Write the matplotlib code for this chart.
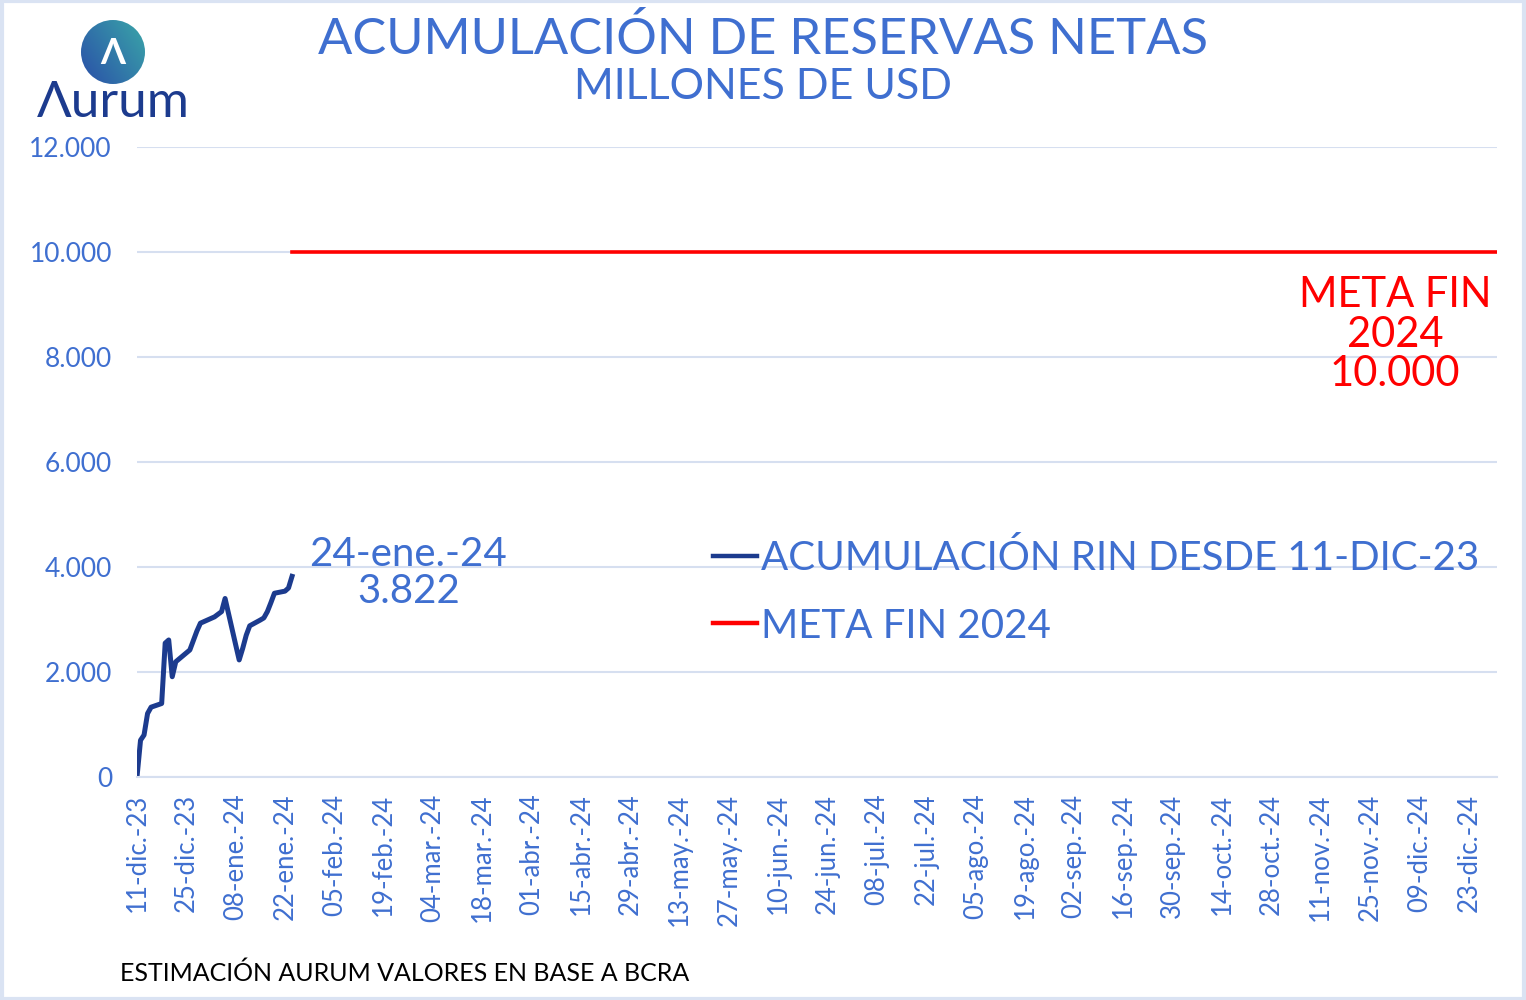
import numpy as np
import pandas as pd
import matplotlib
matplotlib.use('Agg')
import matplotlib.pyplot as plt
from matplotlib.patches import Circle, Rectangle

plt.rcParams['font.family'] = ['Lato', 'DejaVu Sans']

# datos: acumulacion de reservas netas (millones USD)
fechas = ['2023-12-11', '2023-12-12', '2023-12-13', '2023-12-14', '2023-12-15',
          '2023-12-18', '2023-12-19', '2023-12-20', '2023-12-21', '2023-12-22',
          '2023-12-26', '2023-12-27', '2023-12-28', '2023-12-29',
          '2024-01-02', '2024-01-03', '2024-01-04', '2024-01-05',
          '2024-01-08', '2024-01-09', '2024-01-10', '2024-01-11', '2024-01-12',
          '2024-01-15', '2024-01-16', '2024-01-17', '2024-01-18', '2024-01-19',
          '2024-01-22', '2024-01-23', '2024-01-24']
rin = [0, 700, 800, 1210, 1330,
       1400, 2550, 2610, 1910, 2195,
       2420, 2600, 2780, 2930,
       3050, 3100, 3150, 3400,
       2520, 2230, 2450, 2700, 2880,
       2990, 3030, 3150, 3320, 3500,
       3540, 3600, 3822]

meta_fechas = ['2024-01-24', '2024-12-31']
meta = [10000, 10000]

tick_labels = ['11-dic.-23', '25-dic.-23', '08-ene.-24', '22-ene.-24', '05-feb.-24',
               '19-feb.-24', '04-mar.-24', '18-mar.-24', '01-abr.-24', '15-abr.-24',
               '29-abr.-24', '13-may.-24', '27-may.-24', '10-jun.-24', '24-jun.-24',
               '08-jul.-24', '22-jul.-24', '05-ago.-24', '19-ago.-24', '02-sep.-24',
               '16-sep.-24', '30-sep.-24', '14-oct.-24', '28-oct.-24', '11-nov.-24',
               '25-nov.-24', '09-dic.-24', '23-dic.-24']

azul = '#3f6fd0'
azul_osc = '#1c3b8e'
rojo = '#ff0000'
grilla = '#d6dff0'

x = pd.to_datetime(fechas)
xm = pd.to_datetime(meta_fechas)
ticks = pd.date_range('2023-12-11', periods=len(tick_labels), freq='14D')

fig = plt.figure(figsize=(15.26, 10), dpi=100)
ax = fig.add_axes([137/1526, 1 - 777/1000, (1497-137)/1526, (777-147)/1000])

ax.plot(x, rin, color=azul_osc, lw=3.6, label='ACUMULACIÓN RIN DESDE 11-DIC-23', solid_joinstyle='round')
ax.plot(xm, meta, color=rojo, lw=2.6, label='META FIN 2024')

ax.set_ylim(0, 12000)
ax.set_xlim(pd.Timestamp('2023-12-11'), pd.Timestamp('2024-12-31'))
ax.set_yticks(np.arange(0, 12001, 2000))
ax.set_yticklabels(['0', '2.000', '4.000', '6.000', '8.000', '10.000', '12.000'])
ax.set_xticks(ticks)
ax.set_xticklabels(tick_labels, rotation=90)
ax.tick_params(axis='y', colors=azul, labelsize=19, length=0, pad=18)
ax.tick_params(axis='x', colors=azul, labelsize=18.5, length=0, pad=12)
ax.grid(axis='y', color=grilla, lw=1.5)
ax.set_axisbelow(True)
for s in ['top', 'right', 'left']:
    ax.spines[s].set_visible(False)
ax.spines['bottom'].set_color(grilla)
ax.spines['bottom'].set_linewidth(1.5)

# anotaciones
ax.text(pd.Timestamp('2024-02-26'), 4590, '24-ene.-24\n3.822',
        color=azul, fontsize=29, ha='center', va='top', linespacing=1.0)
ax.text(pd.Timestamp('2024-12-02'), 9540, 'META FIN\n2024\n10.000',
        color=rojo, fontsize=30, ha='center', va='top', linespacing=1.05)

leg = ax.legend(loc='center left', bbox_to_anchor=(0.4235, 0.2937), frameon=False,
                fontsize=29, handlelength=1.1, handletextpad=0.1, labelspacing=0.75,
                borderpad=0, borderaxespad=0)
for t in leg.get_texts():
    t.set_color(azul)
for h in leg.get_lines():
    h.set_linewidth(3.2)

# titulos
fig.text(0.5, 0.96, 'ACUMULACIÓN DE RESERVAS NETAS', color=azul, fontsize=36.5,
         ha='center', va='center')
fig.text(0.5, 0.913, 'MILLONES DE USD', color=azul, fontsize=31, ha='center', va='center')
fig.text(120/1526, 1 - 973/1000, 'ESTIMACIÓN AURUM VALORES EN BASE A BCRA',
         color='black', fontsize=18, ha='left', va='center')

# logo (circulo con degradado)
lax = fig.add_axes([81/1526, 1 - 84/1000, 64/1526, 64/1000])
grad = np.linspace(0, 1, 100)
gx, gy = np.meshgrid(grad, grad)
lax.imshow(gx * 0.6 + gy * 0.4, cmap=plt.matplotlib.colors.LinearSegmentedColormap.from_list(
    'logo', ['#2a4fa8', '#3aa6a8']), extent=(0, 1, 0, 1), origin='lower')
circ = Circle((0.5, 0.5), 0.5, transform=lax.transData)
lax.images[0].set_clip_path(circ)
lax.set_xlim(0, 1)
lax.set_ylim(0, 1)
lax.axis('off')
lax.text(0.5, 0.47, 'Λ', color='white', fontsize=26, ha='center', va='center',
         fontweight='bold')
fig.text(113/1526, 1 - 103/1000, 'Λurum', color=azul_osc, fontsize=37, ha='center', va='center')

# marco
fig.patches.append(Rectangle((0.001, 0.001), 0.998, 0.998, transform=fig.transFigure,
                             fill=False, edgecolor='#dae3f3', lw=3))

fig.savefig('out.png', dpi=100)
